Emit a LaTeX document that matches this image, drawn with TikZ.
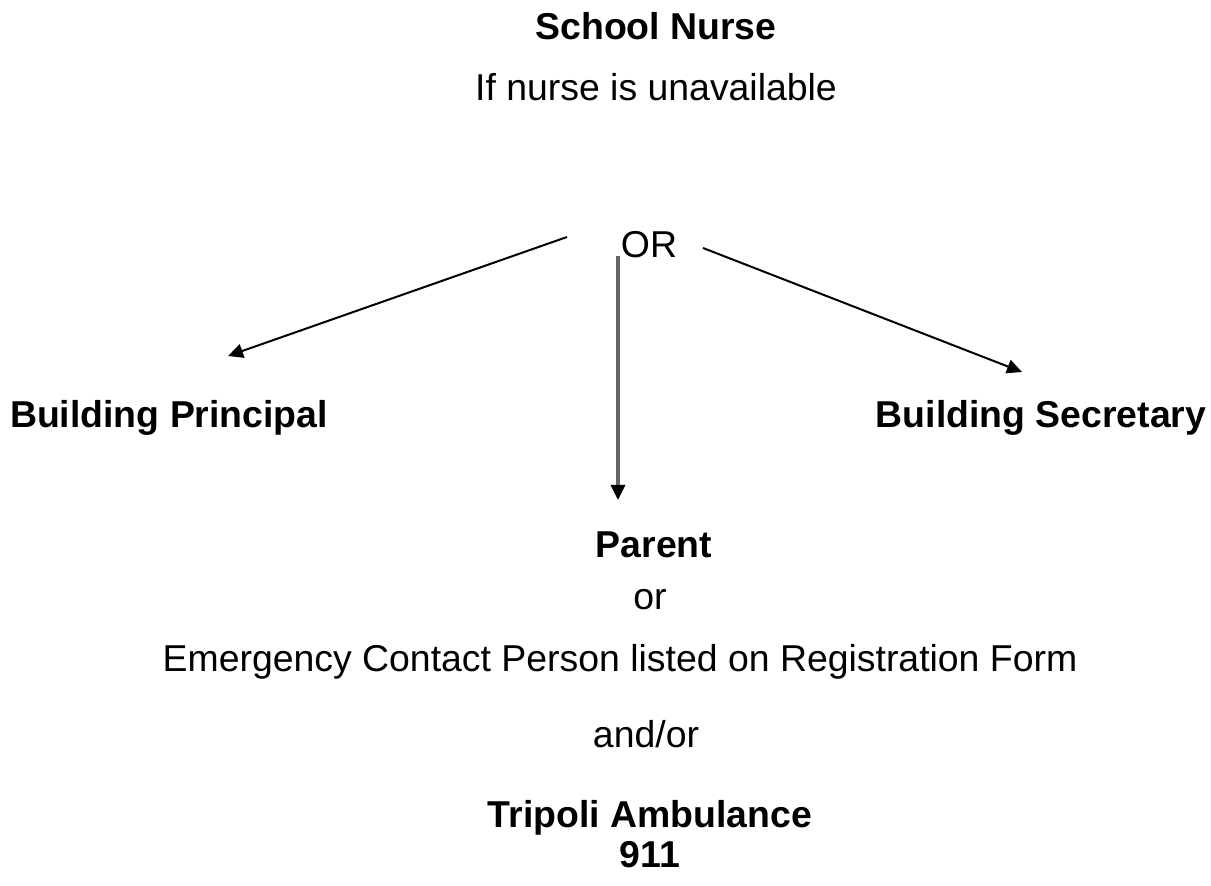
\documentclass[tikz,border=0pt]{standalone}
\usepackage{fontspec}
\setmainfont{Liberation Sans}
\usetikzlibrary{arrows.meta}
\begin{document}
\begin{tikzpicture}[x=0.5pt,y=-0.5pt,
  txt/.style={inner sep=0pt,anchor=base,font=\fontsize{18.7}{22}\selectfont},
  btxt/.style={txt,font=\fontsize{18.7}{22}\selectfont\bfseries},
  arr/.style={line width=1pt,-{Triangle[length=7.5pt,width=7pt]}},
  garr/.style={line width=1.6pt,draw=black!60,-{Triangle[length=7.5pt,width=7pt,fill=black,color=black]}}]
\useasboundingbox (0,0) rectangle (1211,886);
\node[btxt] (nurse) at (656,40) {School Nurse};
\node[txt] (unav) at (656,101) {If nurse is unavailable};
\node[txt] (or) at (649,258) {OR};
\node[btxt] (princ) at (169,428) {Building Principal};
\node[btxt] (secr) at (1041,428) {Building Secretary};
\node[btxt] (parent) at (654,558) {Parent};
\node[txt] (or2) at (650,610) {or};
\node[txt] (emerg) at (620,672) {Emergency Contact Person listed on Registration Form};
\node[txt] (andor) at (646,748) {and/or};
\node[btxt] (tripoli) at (650,828) {Tripoli Ambulance};
\node[btxt] (nine) at (650,868) {911};
\coordinate (lstart) at (567,237);
\coordinate (lend) at (228,356);
\coordinate (rstart) at (703,248);
\coordinate (rend) at (1022,372);
\coordinate (vstart) at (618,256);
\coordinate (vend) at (618,500);
\draw[arr] (lstart) -- (lend);
\draw[arr] (rstart) -- (rend);
\draw[garr] (vstart) -- (vend);
\end{tikzpicture}
\end{document}
